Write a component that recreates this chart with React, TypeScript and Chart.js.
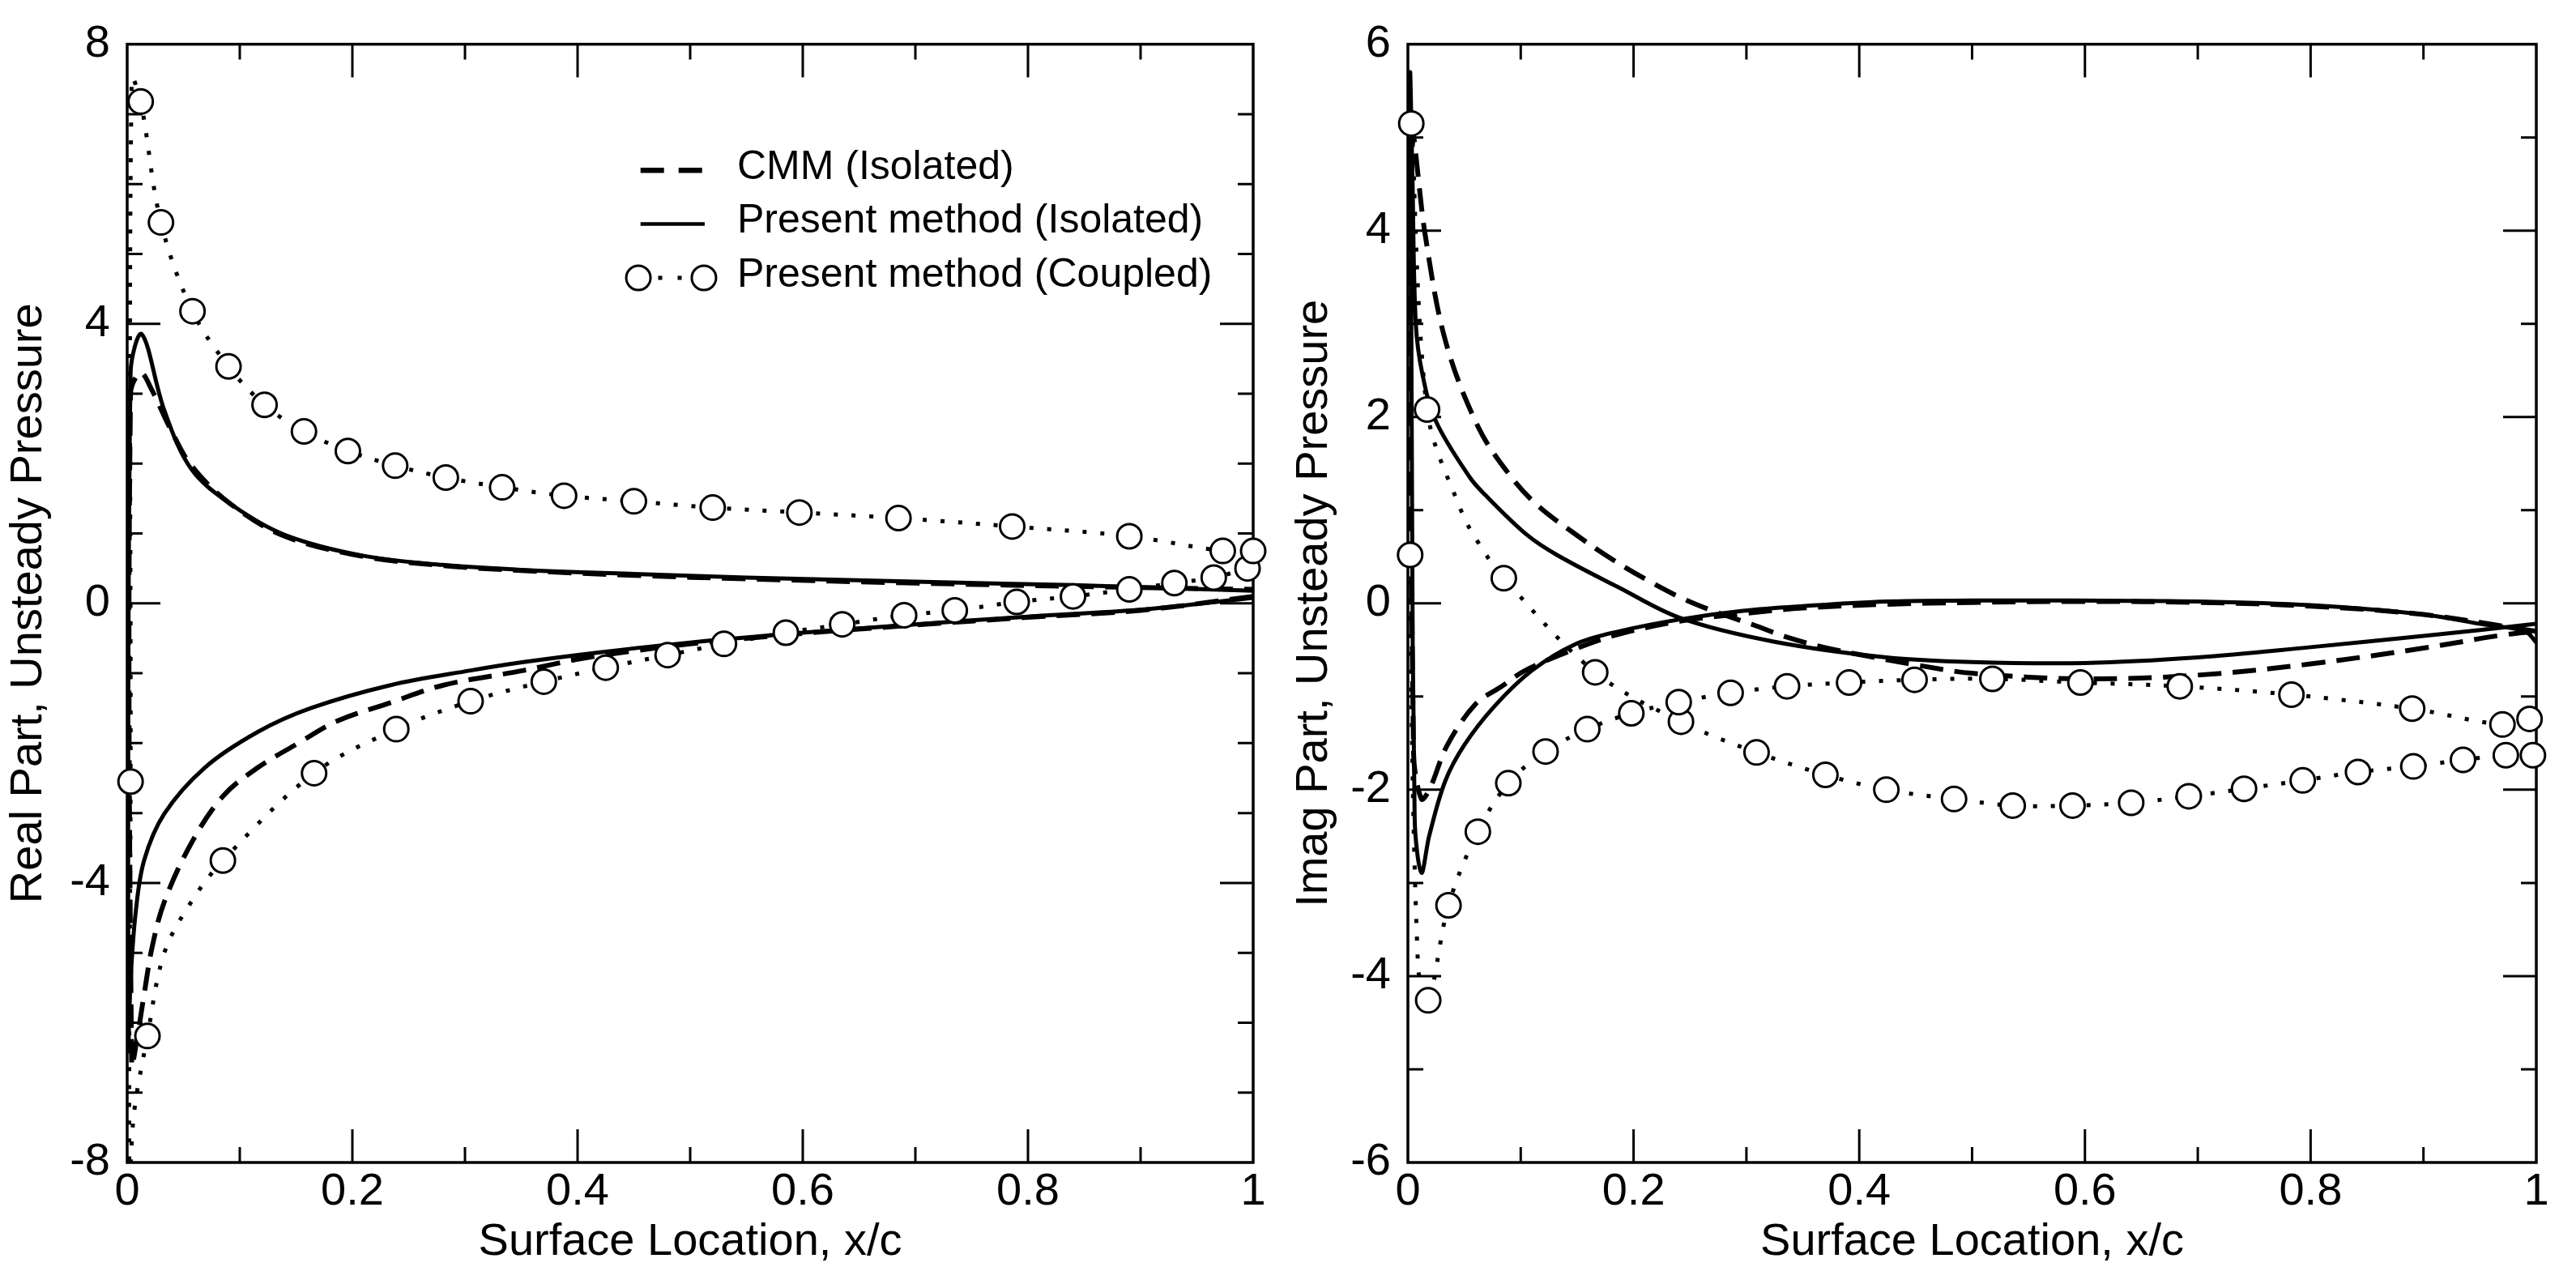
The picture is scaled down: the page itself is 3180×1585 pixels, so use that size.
import { useEffect, useRef } from "react";
import Chart from "chart.js/auto";

type Pt = [number, number];

const FONT = "'Liberation Sans', Arial, Helvetica, sans-serif";
const INK = "#000";

const seriesNames = ["CMM (Isolated)", "Present method (Isolated)", "Present method (Coupled)"];
const xTitle = "Surface Location, x/c";
const xTicks = [0, 0.2, 0.4, 0.6, 0.8, 1];
const realTicks = [-8, -4, 0, 4, 8];
const imagTicks = [-6, -4, -2, 0, 2, 4, 6];

// ---- Real part. Each curve runs trailing edge -> lower side -> nose -> upper side -> trailing edge
const realCmm: Pt[] = [
  [1.0, 0.1], [0.9, -0.1], [0.8, -0.2], [0.7, -0.31], [0.6, -0.43], [0.5, -0.58],
  [0.45, -0.68], [0.4, -0.8], [0.352, -0.96], [0.281, -1.17], [0.234, -1.42], [0.187, -1.68],
  [0.151, -2.01], [0.116, -2.35], [0.085, -2.76], [0.057, -3.43], [0.033, -4.27], [0.022, -4.93],
  [0.015, -5.6], [0.009, -6.2], [0.004, -6.6],
  [0.003, 3.0], [0.012, 3.3], [0.022, 3.05], [0.038, 2.51], [0.057, 1.97], [0.092, 1.42],
  [0.14, 0.96], [0.21, 0.67], [0.28, 0.54], [0.35, 0.47], [0.45, 0.4], [0.55, 0.35],
  [0.7, 0.29], [0.85, 0.24], [1.0, 0.2],
];
const realPresent: Pt[] = [
  [1.0, 0.08], [0.9, -0.09], [0.8, -0.19], [0.7, -0.3], [0.6, -0.42], [0.5, -0.56],
  [0.42, -0.7], [0.352, -0.84], [0.305, -0.96], [0.234, -1.17], [0.163, -1.5], [0.116, -1.84],
  [0.069, -2.35], [0.033, -3.01], [0.015, -3.68], [0.0075, -4.43], [0.003, -5.4], [0.001, -6.3],
  [0.003, 3.3], [0.013, 3.85], [0.033, 2.76], [0.057, 1.92], [0.092, 1.42], [0.14, 0.98],
  [0.21, 0.68], [0.28, 0.55], [0.35, 0.48], [0.45, 0.42], [0.55, 0.37], [0.7, 0.31],
  [0.84, 0.26], [1.0, 0.18],
];
// coupled: circles and the dotted curve bends between them
const realCoupledLower: Pt[] = [
  [0.995, 0.5], [0.965, 0.37], [0.93, 0.29], [0.89, 0.2], [0.84, 0.1], [0.79, 0.02],
  [0.735, -0.1], [0.69, -0.17], [0.635, -0.3], [0.585, -0.42], [0.53, -0.58], [0.48, -0.74],
  [0.425, -0.92], [0.37, -1.12], [0.305, -1.4], [0.239, -1.8], [0.166, -2.43], [0.085, -3.68],
];
const realCoupledLowerBend: Pt[] = [[0.057, -4.27], [0.033, -5.0]];
const realCoupledLowerTip: Pt[] = [[0.018, -6.19]];
const realCoupledNoseLow: Pt[] = [[0.006, -7.3], [0.002, -8.3]];
const realCoupledNoseMark: Pt[] = [[0.003, -2.55]];
const realCoupledNoseHigh: Pt[] = [[0.004, 7.5]];
const realCoupledUpper: Pt[] = [
  [0.012, 7.18], [0.03, 5.45], [0.058, 4.18], [0.09, 3.39], [0.122, 2.84], [0.157, 2.46],
  [0.196, 2.18], [0.238, 1.97], [0.283, 1.8], [0.333, 1.66], [0.388, 1.54], [0.45, 1.46],
  [0.52, 1.37], [0.597, 1.3], [0.685, 1.22], [0.786, 1.1], [0.89, 0.96], [0.973, 0.75], [1.0, 0.75],
];

// ---- Imag part
const imagCmm: Pt[] = [
  [1.0, -0.3], [0.9, -0.12], [0.8, -0.03], [0.7, 0.01], [0.6, 0.02], [0.5, 0.01],
  [0.424, -0.01], [0.35, -0.05], [0.297, -0.11], [0.242, -0.19], [0.187, -0.33], [0.148, -0.49],
  [0.104, -0.72], [0.082, -0.9], [0.06, -1.08], [0.035, -1.52], [0.019, -2.0], [0.012, -2.1],
  [0.005, -1.6],
  [0.004, 5.0], [0.015, 3.98], [0.033, 2.83], [0.062, 1.9], [0.09, 1.38], [0.115, 1.05],
  [0.151, 0.72], [0.18, 0.48], [0.212, 0.25], [0.242, 0.06], [0.27, -0.08], [0.306, -0.23],
  [0.335, -0.36], [0.368, -0.47], [0.4, -0.55], [0.45, -0.66], [0.5, -0.75], [0.6, -0.81],
  [0.7, -0.77], [0.8, -0.65], [0.9, -0.48], [0.97, -0.34], [1.0, -0.3],
];
const imagPresent: Pt[] = [
  [1.0, -0.42], [0.99, -0.3], [0.95, -0.22], [0.9, -0.12], [0.8, -0.02], [0.7, 0.02],
  [0.59, 0.03], [0.5, 0.03], [0.424, 0.02], [0.35, -0.03], [0.297, -0.08], [0.242, -0.17],
  [0.187, -0.3], [0.148, -0.44], [0.11, -0.72], [0.077, -1.1], [0.05, -1.52], [0.033, -1.91],
  [0.019, -2.49], [0.012, -2.89], [0.006, -2.3],
  [0.002, 5.65], [0.004, 4.6], [0.007, 3.0], [0.013, 2.45], [0.025, 1.95], [0.055, 1.35],
  [0.068, 1.17], [0.105, 0.74], [0.132, 0.52], [0.187, 0.17], [0.242, -0.16], [0.324, -0.41],
  [0.424, -0.58], [0.5, -0.63], [0.6, -0.64], [0.7, -0.58], [0.8, -0.47], [0.9, -0.35], [1.0, -0.22],
];
const imagCoupledA: Pt[] = [
  [0.997, -1.63], [0.973, -1.63], [0.935, -1.68], [0.891, -1.75], [0.842, -1.81], [0.793, -1.9],
  [0.741, -1.99], [0.692, -2.07], [0.641, -2.14], [0.589, -2.17], [0.536, -2.17], [0.484, -2.1],
  [0.424, -2.0], [0.37, -1.84], [0.309, -1.6], [0.242, -1.27], [0.166, -0.74], [0.085, 0.27],
];
const imagCoupledBendA: Pt[] = [[0.063, 0.64], [0.047, 1.0]];
const imagCoupledNose: Pt[] = [[0.017, 2.08], [0.003, 5.15], [0.002, 0.52]];
const imagCoupledBendB: Pt[] = [[0.009, -3.9]];
const imagCoupledB: Pt[] = [
  [0.018, -4.26], [0.036, -3.24], [0.062, -2.45], [0.089, -1.93], [0.122, -1.59], [0.159, -1.35],
  [0.198, -1.18], [0.24, -1.06], [0.286, -0.96], [0.336, -0.89], [0.391, -0.85], [0.449, -0.82],
  [0.518, -0.81], [0.596, -0.85], [0.684, -0.89], [0.783, -0.98], [0.89, -1.13], [0.97, -1.3],
  [0.994, -1.24],
];

const realCoupledPath = [
  ...realCoupledLower, ...realCoupledLowerBend, ...realCoupledLowerTip, ...realCoupledNoseLow,
  ...realCoupledNoseMark, ...realCoupledNoseHigh, ...realCoupledUpper,
];
const realCoupledMarks = [...realCoupledLower, ...realCoupledLowerTip, ...realCoupledNoseMark, ...realCoupledUpper];
const imagCoupledPath = [...imagCoupledA, ...imagCoupledBendA, ...imagCoupledNose, ...imagCoupledBendB, ...imagCoupledB];
const imagCoupledMarks = [...imagCoupledA, ...imagCoupledNose, ...imagCoupledB];

const DASH = [29, 14];
const DOT = [5, 17];
const toXY = (pts: Pt[]) => pts.map(([x, y]) => ({ x, y }));

// frame and inward ticks on all four sides
const frameTicks = {
  id: "frameTicks",
  beforeDatasetsDraw(chart: any, _args: any, opts: any) {
    const { ctx, chartArea: a, scales } = chart;
    ctx.save();
    ctx.strokeStyle = INK;
    ctx.lineWidth = 3.5;
    ctx.strokeRect(a.left, a.top, a.right - a.left, a.bottom - a.top);
    ctx.lineWidth = 3;
    const each = (scale: any, step: number, major: number, fn: (p: number, len: number) => void) => {
      const n = Math.round((scale.max - scale.min) / step);
      for (let k = 1; k < n; k++) {
        const v = scale.min + k * step;
        const isMajor = Math.abs(v / major - Math.round(v / major)) < 1e-6;
        fn(scale.getPixelForValue(v), isMajor ? 41 : 19);
      }
    };
    ctx.beginPath();
    each(scales.x, opts.xStep, opts.xMajor, (p, len) => {
      ctx.moveTo(p, a.bottom); ctx.lineTo(p, a.bottom - len);
      ctx.moveTo(p, a.top); ctx.lineTo(p, a.top + len);
    });
    each(scales.y, opts.yStep, opts.yMajor, (p, len) => {
      ctx.moveTo(a.left, p); ctx.lineTo(a.left + len, p);
      ctx.moveTo(a.right, p); ctx.lineTo(a.right - len, p);
    });
    ctx.stroke();
    ctx.restore();
  },
};

const paperLegend = {
  id: "paperLegend",
  afterDatasetsDraw(chart: any) {
    const { ctx, chartArea: a } = chart;
    const w = a.right - a.left;
    const h = a.bottom - a.top;
    const at = (f: number) => a.left + f * w;
    const rows = [0.1127, 0.1608, 0.2089].map((f) => a.top + f * h);
    ctx.save();
    ctx.strokeStyle = INK;
    ctx.fillStyle = INK;
    ctx.lineCap = "butt";

    ctx.lineWidth = 6.5;
    ctx.setLineDash([29, 18]);
    ctx.beginPath(); ctx.moveTo(at(0.4559), rows[0]); ctx.lineTo(at(0.5108), rows[0]); ctx.stroke();

    ctx.lineWidth = 4.5;
    ctx.setLineDash([]);
    ctx.beginPath(); ctx.moveTo(at(0.4559), rows[1]); ctx.lineTo(at(0.5129), rows[1]); ctx.stroke();

    const c0 = at(0.454);
    const c1 = at(0.5122);
    for (const f of [0.333, 0.63]) {
      const dx = c0 + f * (c1 - c0);
      ctx.fillRect(dx - 2.5, rows[2] - 2.5, 5, 5);
    }
    ctx.lineWidth = 3;
    for (const cx of [c0, c1]) {
      ctx.beginPath();
      ctx.arc(cx, rows[2], 15, 0, Math.PI * 2);
      ctx.fillStyle = "#fff";
      ctx.fill();
      ctx.stroke();
    }

    ctx.fillStyle = INK;
    ctx.font = `50px ${FONT}`;
    ctx.textAlign = "left";
    ctx.textBaseline = "middle";
    seriesNames.forEach((name, i) => ctx.fillText(name, at(0.5417), rows[i] - 3));
    ctx.restore();
  },
};

interface PanelProps {
  left: number;
  width: number;
  plotLeft: number;
  rightPad: number;
  titlePad: number;
  yTitle: string;
  yTicks: number[];
  yMajor: number;
  cmm: Pt[];
  present: Pt[];
  coupledPath: Pt[];
  coupledMarks: Pt[];
  legend?: boolean;
}

function PressurePanel(p: PanelProps) {
  const canvasRef = useRef<HTMLCanvasElement | null>(null);

  useEffect(() => {
    if (!canvasRef.current) return;
    const tickFont = { family: FONT, size: 56 };
    const titleFont = { family: FONT, size: 56 };
    const yMin = p.yTicks[0];
    const yMax = p.yTicks[p.yTicks.length - 1];

    const chart = new Chart(canvasRef.current, {
      type: "scatter",
      data: {
        datasets: [
          {
            label: "marks",
            data: toXY(p.coupledMarks),
            showLine: false,
            pointRadius: 15,
            pointHoverRadius: 15,
            pointBorderWidth: 3,
            pointBorderColor: INK,
            pointBackgroundColor: "#fff",
            clip: false,
          },
          {
            label: seriesNames[2],
            data: toXY(p.coupledPath),
            showLine: true,
            borderColor: INK,
            borderWidth: 5,
            borderDash: DOT,
            pointRadius: 0,
            tension: 0.35,
          },
          {
            label: seriesNames[1],
            data: toXY(p.present),
            showLine: true,
            borderColor: INK,
            borderWidth: 5,
            pointRadius: 0,
            tension: 0.35,
          },
          {
            label: seriesNames[0],
            data: toXY(p.cmm),
            showLine: true,
            borderColor: INK,
            borderWidth: 6,
            borderDash: DASH,
            pointRadius: 0,
            tension: 0.35,
          },
        ],
      },
      options: {
        animation: false,
        responsive: true,
        maintainAspectRatio: false,
        events: [],
        layout: { padding: { left: 0, top: 42, right: p.rightPad, bottom: 0 } },
        plugins: {
          legend: { display: false },
          tooltip: { enabled: false },
          frameTicks: { xStep: 0.1, xMajor: 0.2, yStep: 1, yMajor: p.yMajor },
        } as any,
        scales: {
          x: {
            type: "linear",
            min: 0,
            max: 1,
            afterBuildTicks: (axis: any) => {
              axis.ticks = xTicks.map((value) => ({ value }));
            },
            afterFit: (axis: any) => {
              axis.height = 150;
            },
            grid: { display: false, drawTicks: false },
            border: { display: false },
            ticks: { padding: 3, color: INK, font: tickFont, maxRotation: 0, autoSkip: false, callback: (v: any) => String(v) },
            title: { display: true, text: xTitle, color: INK, font: titleFont, padding: { top: 0, bottom: 18 } },
          },
          y: {
            type: "linear",
            min: yMin,
            max: yMax,
            afterBuildTicks: (axis: any) => {
              axis.ticks = p.yTicks.map((value) => ({ value }));
            },
            afterFit: (axis: any) => {
              axis.width = p.plotLeft;
            },
            grid: { display: false, drawTicks: false },
            border: { display: false },
            ticks: { padding: 21, color: INK, font: tickFont, autoSkip: false, callback: (v: any) => String(v) },
            title: { display: true, text: p.yTitle, color: INK, font: titleFont, padding: { top: p.titlePad, bottom: 0 } },
          },
        },
      },
      plugins: p.legend ? [frameTicks, paperLegend] : [frameTicks],
    });

    return () => chart.destroy();
    // eslint-disable-next-line react-hooks/exhaustive-deps
  }, []);

  return (
    <div style={{ position: "absolute", left: p.left, top: 0, width: p.width, height: 1585 }}>
      <canvas ref={canvasRef} />
    </div>
  );
}

export default function App() {
  return (
    <div style={{ position: "fixed", left: 0, top: 0, width: 3180, height: 1585, background: "#fff" }}>
      <PressurePanel
        left={0}
        width={1590}
        plotLeft={157}
        rightPad={43}
        titlePad={2}
        yTitle="Real Part, Unsteady Pressure"
        yTicks={realTicks}
        yMajor={4}
        cmm={realCmm}
        present={realPresent}
        coupledPath={realCoupledPath}
        coupledMarks={realCoupledMarks}
        legend
      />
      <PressurePanel
        left={1560}
        width={1620}
        plotLeft={178}
        rightPad={49}
        titlePad={29}
        yTitle="Imag Part, Unsteady Pressure"
        yTicks={imagTicks}
        yMajor={2}
        cmm={imagCmm}
        present={imagPresent}
        coupledPath={imagCoupledPath}
        coupledMarks={imagCoupledMarks}
      />
    </div>
  );
}
